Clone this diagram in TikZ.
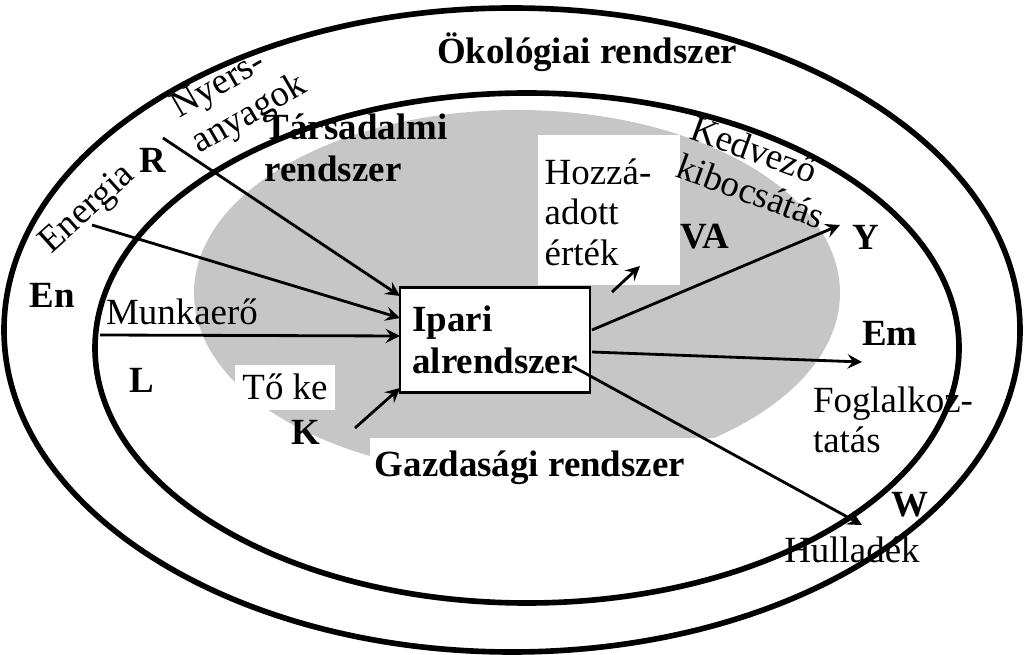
\documentclass[tikz,border=0pt]{standalone}
\usepackage{fontspec}
\setmainfont{Liberation Serif}
\usetikzlibrary{positioning}

\begin{document}
\begin{tikzpicture}[x=0.01cm, y=-0.01cm, font=\fontsize{10.5}{11.5}\selectfont]
    % Define styles
    \tikzset{lbl/.style={inner sep=1pt, align=left},
             blbl/.style={inner sep=1pt, font=\fontsize{10.5}{12}\selectfont\bfseries, align=left},
             arrow/.style={thick, ->, >=stealth},
             cutout/.style={fill=white, draw=none}}
    \useasboundingbox (0,0) rectangle (1024,655);

    % Ellipses and grey area
    \draw[line width=1.6pt] (512,330) ellipse [x radius=508, y radius=322];
    \draw[line width=1.6pt] (527,348) ellipse [x radius=432, y radius=255];
    \fill[gray!45] (517,293) ellipse [x radius=323, y radius=183];
    \fill[cutout] (538,135) rectangle (680,285);
    \fill[cutout] (235,365) rectangle (335,410);
    \fill[cutout] (370,438) rectangle (732,492);

    % Nodes
    \node[draw, thick, fill=white, minimum width=190*0.01cm, minimum height=105*0.01cm,
          blbl, align=left] (ipari) at (495,340) {Ipari\\alrendszer};
    \node[blbl] (oko) at (587,52) {Ökológiai rendszer};
    \node[blbl] (tars) at (356,148) {Társadalmi\\rendszer};
    \node[blbl] (gazd) at (530,468) {Gazdasági rendszer};
    \node[lbl, rotate=30] (nyers) at (240,98) {Nyers-\\anyagok};
    \node[lbl, rotate=42] (energia) at (88,210) {Energia};
    \node[lbl, rotate=-20] (kedv) at (758,172) {Kedvező\\kibocsátás};
    \node[lbl] (munka) at (182,312) {Munkaerő};
    \node[lbl] (toke) at (285,387) {Tő ke};
    \node[lbl] (hozza) at (598,212) {Hozzá-\\adott\\érték};
    \node[lbl] (fogl) at (893,420) {Foglalkoz-\\tatás};
    \node[lbl] (hull) at (852,550) {Hulladék};
    \node[blbl] (R) at (153,160) {R};
    \node[blbl] (En) at (52,295) {En};
    \node[blbl] (L) at (142,380) {L};
    \node[blbl] (K) at (306,432) {K};
    \node[blbl] (VA) at (705,237) {VA};
    \node[blbl] (Y) at (866,237) {Y};
    \node[blbl] (Em) at (890,333) {Em};
    \node[blbl] (W) at (910,505) {W};

    % Arrow ends
    \coordinate (rs) at (163,138);
    \coordinate (es) at (92,225);
    \coordinate (ls) at (100,335);
    \coordinate (ks) at (355,428);
    \coordinate (vae) at (640,266);
    \coordinate (ye) at (840,225);
    \coordinate (eme) at (862,362);
    \coordinate (we) at (862,525);

    % Arrows
    \draw[arrow] (rs) -- (400,296);
    \draw[arrow] (es) -- (400,318);
    \draw[arrow] (ls) -- (400,336);
    \draw[arrow] (ks) -- (400,388);
    \draw[arrow] (612,292) -- (vae);
    \draw[arrow] (592,330) -- (ye);
    \draw[arrow] (592,352) -- (eme);
    \draw[arrow] (572,366) -- (we);
\end{tikzpicture}
\end{document}
